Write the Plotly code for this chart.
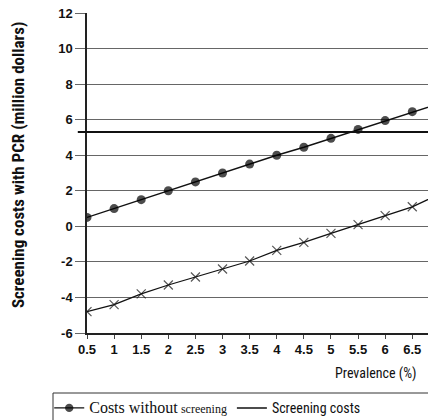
import plotly.graph_objects as go

# Data
prevalence = [0.5, 1, 1.5, 2, 2.5, 3, 3.5, 4, 4.5, 5, 5.5, 6, 6.5, 7.0]
costs_without = [0.5, 1.0, 1.5, 2.0, 2.5, 3.0, 3.5, 4.0, 4.45, 4.95, 5.45, 5.95, 6.45, 6.9]
net_costs = [-4.8, -4.4, -3.8, -3.3, -2.85, -2.4, -1.95, -1.35, -0.9, -0.4, 0.1, 0.6, 1.1, 1.8]
screening_cost = 5.3
tick_vals = [0.5, 1, 1.5, 2, 2.5, 3, 3.5, 4, 4.5, 5, 5.5, 6, 6.5]
tick_text = ["0.5", "1", "1.5", "2", "2.5", "3", "3.5", "4", "4.5", "5", "5.5", "6", "6.5"]
y_tick_vals = [-6, -4, -2, 0, 2, 4, 6, 8, 10, 12]
y_tick_text = ["-6", "-4", "-2", "0", "2", "4", "6", "8", "10", "12"]

n_marked = len(tick_vals)
dot_sizes = [9] * n_marked + [0] * (len(prevalence) - n_marked)
x_sizes = [9] * n_marked + [0] * (len(prevalence) - n_marked)

NARROW = "Liberation Sans Narrow, Arial Narrow, Roboto Condensed, DejaVu Sans Condensed, sans-serif"
SANS = "Liberation Sans, Arial, sans-serif"

fig = go.Figure()

fig.add_trace(go.Scatter(
    x=prevalence, y=net_costs, mode="lines+markers",
    line=dict(color="#111", width=1.3),
    marker=dict(symbol="x-thin", size=x_sizes, line=dict(color="#111", width=1.2), color="#111"),
    showlegend=False,
))

fig.add_trace(go.Scatter(
    x=prevalence, y=costs_without, mode="lines+markers",
    line=dict(color="#111", width=1.4),
    marker=dict(symbol="circle", size=dot_sizes, color="black", line=dict(width=0)),
    name='<span style="font-family:Liberation Serif, Times New Roman, serif;font-size:16px">Costs without</span> '
         '<span style="font-family:Liberation Sans Narrow;font-size:12px">screening</span>',
))

# legend-only entry for screening cost line
fig.add_trace(go.Scatter(
    x=[None], y=[None], mode="lines",
    line=dict(color="#111", width=1.5),
    name="Screening costs",
))

fig.add_shape(type="line", xref="paper", yref="y",
              x0=-0.027, x1=1, y0=screening_cost, y1=screening_cost,
              line=dict(color="#111", width=2))

# legend frame
fig.add_shape(type="rect", xref="paper", yref="paper",
              x0=-0.0997, x1=1.1, y0=-0.1875, y1=-0.4,
              line=dict(color="#333", width=1), fillcolor="rgba(0,0,0,0)")

fig.update_layout(
    template="none",
    width=428, height=420,
    margin=dict(l=87, r=0, t=13, b=87),
    paper_bgcolor="white", plot_bgcolor="white",
    font=dict(family=SANS, color="#111"),
    xaxis=dict(
        range=[0.5, 6.79], tickmode="array", tickvals=tick_vals, ticktext=tick_text,
        showgrid=False, zeroline=False, showline=True, linecolor="#222", linewidth=1.5,
        ticks="outside", ticklen=4, tickcolor="#444", automargin=False,
        tickfont=dict(family=SANS, size=13, weight="bold", color="#111"),
    ),
    yaxis=dict(
        range=[-6, 12], tickmode="array", tickvals=y_tick_vals, ticktext=y_tick_text,
        showgrid=True, gridcolor="#666", gridwidth=1, zeroline=False,
        showline=True, linecolor="#222", linewidth=1.5, automargin=False,
        ticks="outside", ticklen=10, tickcolor="#666",
        tickfont=dict(family=SANS, size=13, weight="bold", color="#111"),
    ),
    legend=dict(
        orientation="h", xref="container", yref="container",
        x=0.115, y=0.066, xanchor="left", yanchor="top",
        bgcolor="rgba(0,0,0,0)", borderwidth=0,
        font=dict(family=NARROW, size=14, color="#111"),
        itemwidth=30, tracegroupgap=0,
    ),
    annotations=[
        dict(text="<b>Screening costs with PCR (million dollars)</b>", textangle=-90,
             xref="paper", yref="paper", x=-0.202, y=0.525, showarrow=False,
             xanchor="center", yanchor="middle",
             font=dict(family=NARROW, size=17, color="#111")),
        dict(text="Prevalence (%)", xref="paper", yref="paper", x=0.845, y=-0.125,
             xanchor="center", yanchor="middle", showarrow=False,
             font=dict(family=NARROW, size=14, color="#111")),
    ],
)

fig.write_html("out.html", config={"displayModeBar": False},
               post_script="document.body.style.margin='0';")
